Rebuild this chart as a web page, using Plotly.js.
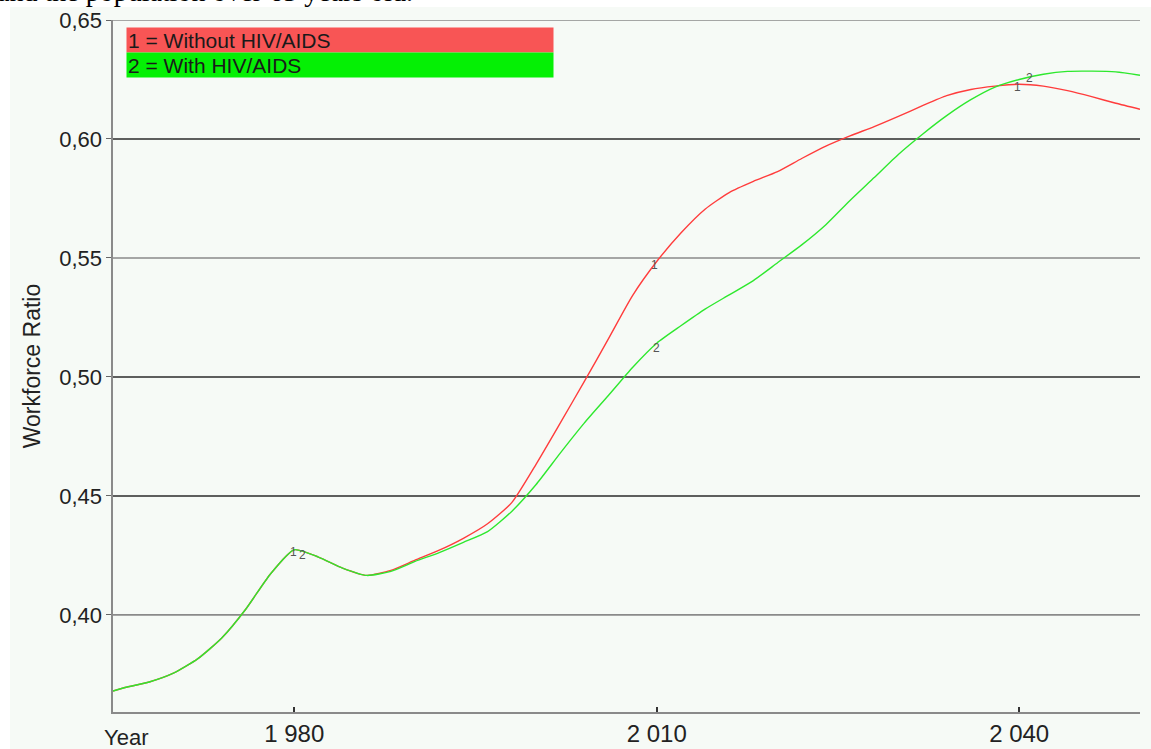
<!DOCTYPE html>
<html>
<head>
<meta charset="utf-8">
<script src="https://cdn.plot.ly/plotly-3.0.1.min.js"></script>
<style>html,body{margin:0;padding:0;background:#fff;}#chart{width:1151px;height:749px;}</style>
</head>
<body>
<div id="chart"></div>
<script>
// ---- data ----
const years = [1965,1966,1968,1970,1972,1974,1976,1978,1980,1982,1984,1986,1988,1990,1992,1994,1996,1998,2000,2002,2004,2006,2008,2010,2012,2014,2016,2018,2020,2022,2024,2026,2028,2030,2032,2034,2036,2038,2040,2042,2044,2046,2048,2050];
const withoutHIV = [0.368,0.3695,0.3718,0.3755,0.3815,0.3903,0.4025,0.4170,0.4274,0.4243,0.4197,0.4166,0.4187,0.4230,0.4272,0.4322,0.4383,0.4472,0.4632,0.4805,0.4980,0.5160,0.5342,0.5485,0.5605,0.5705,0.5775,0.5822,0.5863,0.5918,0.5970,0.6013,0.6052,0.6095,0.6140,0.6182,0.6208,0.6222,0.6230,0.6222,0.6203,0.6178,0.6150,0.6125];
const withHIV = [0.368,0.3695,0.3718,0.3755,0.3815,0.3903,0.4025,0.4170,0.4274,0.4243,0.4197,0.4166,0.4183,0.4225,0.4262,0.4305,0.4350,0.4435,0.4547,0.4679,0.4806,0.4922,0.5040,0.5142,0.5215,0.5285,0.5345,0.5405,0.5480,0.5555,0.5640,0.5742,0.5838,0.5935,0.6020,0.6098,0.6165,0.6218,0.6250,0.6272,0.6284,0.6285,0.6282,0.6268];
const seriesNames = ['1 = Without HIV/AIDS', '2 = With HIV/AIDS'];
const labelYears = [1980, 2010, 2040];
const xTickVals = [1980, 2010, 2040];
const xTickText = ['1 980', '2 010', '2 040'];
const yTickVals = [0.40, 0.45, 0.50, 0.55, 0.60, 0.65];
const darkGrid = [0.45, 0.50, 0.60];
const lightGrid = [0.40, 0.55, 0.65];
const caption = 'and the population over 65 years old.';

// ---- styles ----
const RED = '#ff3c3c', GREEN = '#2ee82e';
const FONT = 'Liberation Sans, Arial, sans-serif';
const traces = [
  {x: years, y: withoutHIV, mode: 'lines', name: seriesNames[0], line: {color: RED, width: 1.4, shape: 'spline', smoothing: 0.6}, hoverinfo: 'skip'},
  {x: years, y: withHIV, mode: 'lines', name: seriesNames[1], line: {color: GREEN, width: 1.4, shape: 'spline', smoothing: 0.6}, hoverinfo: 'skip'}
];

const shapes = [
  {type: 'rect', xref: 'paper', yref: 'paper', x0: -0.1003, x1: 1.02, y0: -0.06, y1: 1.0188, fillcolor: '#f6faf6', line: {width: 0}, layer: 'below'}
];
darkGrid.forEach(v => shapes.push({type: 'line', xref: 'paper', yref: 'y', x0: 0, x1: 1, y0: v, y1: v, line: {color: '#2a2a2a', width: 1.6}, layer: 'below'}));
lightGrid.forEach(v => shapes.push({type: 'line', xref: 'paper', yref: 'y', x0: 0, x1: 1, y0: v, y1: v, line: {color: '#8a8a8a', width: 1.6}, layer: 'below'}));

const annotations = [
  {xref: 'paper', yref: 'paper', x: 0.0127, y: 1.0, yanchor: 'top', xanchor: 'left', yshift: -7, width: 424, height: 22, align: 'left', bgcolor: '#f85555', text: seriesNames[0], showarrow: false, font: {family: FONT, size: 21, color: '#1a1a1a'}, borderpad: 1},
  {xref: 'paper', yref: 'paper', x: 0.0127, y: 1.0, yanchor: 'top', xanchor: 'left', yshift: -32, width: 424, height: 22, align: 'left', bgcolor: '#05f005', text: seriesNames[1], showarrow: false, font: {family: FONT, size: 21, color: '#1a1a1a'}, borderpad: 1},
  {xref: 'paper', yref: 'paper', x: 0.0127, y: 0, yanchor: 'top', xanchor: 'center', yshift: -11, text: 'Year', showarrow: false, font: {family: FONT, size: 22, color: '#222'}},
  {xref: 'paper', yref: 'paper', x: -0.115, y: 1.0, xanchor: 'left', yanchor: 'bottom', yshift: 11, text: caption, showarrow: false, font: {family: 'Liberation Serif, Times New Roman, serif', size: 28, color: '#000'}}
];
// series markers "1" and "2"
const labelOffsets = {
  1980: [[-1, -2], [8, -5]],
  2010: [[-2, -3], [0, -5]],
  2040: [[-2, -3], [10, 1]]
};
labelYears.forEach(yr => {
  const i = years.indexOf(yr);
  [withoutHIV, withHIV].forEach((arr, k) => {
    annotations.push({x: yr, y: arr[i], xref: 'x', yref: 'y', text: String(k + 1), showarrow: false,
      xshift: labelOffsets[yr][k][0], yshift: labelOffsets[yr][k][1],
      font: {family: FONT, size: 12, color: '#555'}});
  });
});

const layout = {
  width: 1151, height: 749,
  margin: {l: 113, r: 11, t: 20, b: 37, pad: 0},
  paper_bgcolor: '#ffffff', plot_bgcolor: 'rgba(0,0,0,0)',
  showlegend: false,
  separators: ', ',
  font: {family: FONT, color: '#222'},
  xaxis: {range: [1965, 2050], tickvals: xTickVals, ticktext: xTickText, ticks: 'inside', ticklen: 5, tickwidth: 2, tickcolor: '#333',
    showgrid: false, zeroline: false, showline: true, linecolor: '#8a8a8a', linewidth: 1.6,
    tickfont: {size: 24, color: '#222'}, fixedrange: true},
  yaxis: {range: [0.3592, 0.65], tickvals: yTickVals, tickformat: '.2f', ticks: 'outside', ticklen: 5, tickwidth: 1, tickcolor: '#666',
    showgrid: false, zeroline: false, showline: true, linecolor: '#8a8a8a', linewidth: 1.6,
    tickfont: {size: 22, color: '#222'},
    title: {text: 'Workforce Ratio', font: {size: 23, color: '#222'}, standoff: 12}, fixedrange: true},
  shapes: shapes,
  annotations: annotations
};
Plotly.newPlot('chart', traces, layout, {staticPlot: true, displayModeBar: false});
</script>
</body>
</html>
